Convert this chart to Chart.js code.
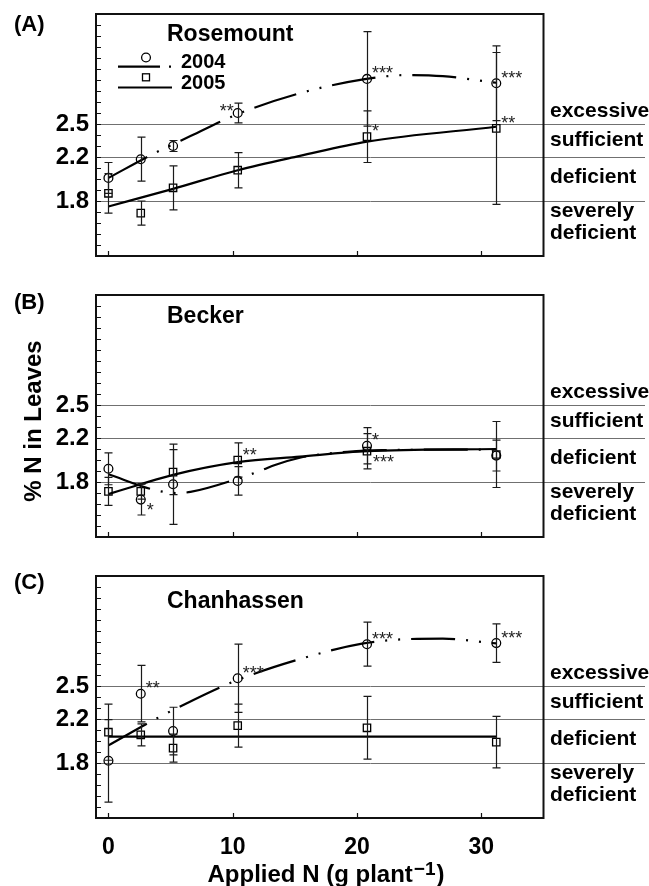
<!DOCTYPE html>
<html>
<head>
<meta charset="utf-8">
<script src="https://cdn.jsdelivr.net/npm/chart.js@4.4.1/dist/chart.umd.min.js"></script>
<style>
  html, body { margin: 0; padding: 0; background: #fff; }
  #wrap { position: relative; width: 649px; height: 886px; }
  canvas { position: absolute; left: 0; }
</style>
</head>
<body>
<div id="wrap">
  <canvas id="panelA" width="649" height="281" style="top:0"></canvas>
  <canvas id="panelB" width="649" height="281" style="top:281px"></canvas>
  <canvas id="panelC" width="649" height="324" style="top:562px"></canvas>
</div>
<script>
// ---- data ----
const nApplied = [0, 2.6, 5.2, 10.4, 20.8, 31.2];
const xTickValues = [0, 10, 20, 30];
const yTickLabels = [1.8, 2.2, 2.5];
const statusLimits = [1.8, 2.2, 2.5];
const statusNames = ['excessive', 'sufficient', 'deficient', 'severely', 'deficient'];

// (A) Rosemount
const rose2004 = [2.01, 2.18, 2.30, 2.60, 2.91, 2.87];
const rose2004Err = [0.14, 0.20, 0.05, 0.09, 0.43, 0.34];
const rose2004Sig = ['', '', '', '**', '***', '***'];
const rose2005 = [1.87, 1.69, 1.92, 2.08, 2.385, 2.46];
const rose2005Err = [0.18, 0.11, 0.20, 0.16, 0.235, 0.69];
const rose2005Sig = ['', '', '', '', '*', '**'];
const rose2004FitX = [0, 3.8, 6.6, 10.4, 15.4, 20.5, 24, 26.9, 31.2];
const rose2004FitY = [2.01, 2.24, 2.39, 2.59, 2.78, 2.905, 2.945, 2.935, 2.875];
const rose2005FitX = [0, 5.2, 10.4, 15.4, 20.8, 31.2];
const rose2005FitY = [1.75, 1.91, 2.08, 2.21, 2.34, 2.475];

// (B) Becker
const beck2004 = [1.92, 1.64, 1.78, 1.81, 2.13, 2.04];
const beck2004Err = [0.145, 0.14, 0.365, 0.13, 0.165, 0.14];
const beck2004Sig = ['', '*', '', '', '*', ''];
const beck2005 = [1.715, 1.715, 1.89, 2.0, 2.08, 2.05];
const beck2005Err = [0.127, 0.07, 0.205, 0.156, 0.16, 0.30];
const beck2005Sig = ['', '', '', '**', '***', ''];
const beck2004FitX = [0, 3.8, 5.5, 6.6, 10.4, 12.4, 13.4, 15.4, 17, 19.2, 22, 31.2];
const beck2004FitY = [1.87, 1.725, 1.70, 1.71, 1.83, 1.91, 1.955, 2.02, 2.05, 2.075, 2.09, 2.095];
const beck2005FitX = [0, 2.6, 5.2, 10.4, 15.4, 20.8, 31.2];
const beck2005FitY = [1.69, 1.78, 1.865, 1.98, 2.03, 2.08, 2.10];

// (C) Chanhassen
const chan2004 = [1.82, 2.43, 2.09, 2.57, 2.88, 2.89];
const chan2004Err = [0.375, 0.257, 0.217, 0.31, 0.20, 0.175];
const chan2004Sig = ['', '**', '', '***', '***', '***'];
const chan2005 = [2.08, 2.056, 1.935, 2.14, 2.12, 1.99];
const chan2005Err = [0.255, 0.10, 0.127, 0.196, 0.285, 0.234];
const chan2005Sig = ['', '', '', '', '', ''];
const chan2004FitX = [0, 3.8, 6.6, 10.4, 15.4, 20.4, 24, 26.9, 31.2];
const chan2004FitY = [1.96, 2.20, 2.36, 2.555, 2.745, 2.885, 2.926, 2.93, 2.887];
const chan2005FitX = [0, 31.2];
const chan2005FitY = [2.04, 2.04];

// ---- drawing ----
const FONT = "'Liberation Sans', Arial, Helvetica, sans-serif";
Chart.defaults.font.family = FONT;
Chart.defaults.color = '#000';
const DASH_2004 = [44, 11, 2, 11, 2, 11];
const PLOT_TOP = 14, PLOT_H = 242;

const pts = (xs, ys) => xs.map((v, i) => ({ x: v, y: ys[i] }));

function drawStars(ctx, text, px, py, pos) {
  ctx.font = '18px ' + FONT;
  ctx.textBaseline = 'alphabetic';
  if (pos === 'nw') { ctx.textAlign = 'right'; ctx.fillText(text, px - 4, py - 7 + 10.5); }
  else if (pos === 'se') { ctx.textAlign = 'left'; ctx.fillText(text, px + 6, py + 6 + 10.5); }
  else { ctx.textAlign = 'left'; ctx.fillText(text, px + 5, py - 10 + 10.5); }
}

const decor = {
  id: 'decor',
  beforeDatasetsDraw(chart) {
    const { ctx, chartArea: a, scales: { y } } = chart;
    ctx.save();
    ctx.strokeStyle = '#707070';
    ctx.lineWidth = 1;
    statusLimits.forEach(v => {
      const py = Math.round(y.getPixelForValue(v)) + 0.5;
      ctx.beginPath(); ctx.moveTo(a.left, py); ctx.lineTo(645, py); ctx.stroke();
    });
    const anchors = [[2.5, -13], [2.5, 16.5], [2.2, 20], [1.8, 10], [1.8, 32]];
    ctx.fillStyle = '#000';
    ctx.font = 'bold 21px ' + FONT;
    ctx.textAlign = 'left';
    ctx.textBaseline = 'middle';
    statusNames.forEach((t, i) => ctx.fillText(t, 550, y.getPixelForValue(anchors[i][0]) + anchors[i][1]));
    ctx.restore();
  },
  afterDatasetsDraw(chart, args, o) {
    const { ctx, chartArea: a, scales: { x, y } } = chart;
    ctx.save();
    // error bars + significance
    chart.data.datasets.forEach(ds => {
      if (!ds.errors) return;
      ctx.strokeStyle = '#1a1a1a';
      ctx.lineWidth = 1.2;
      ds.data.forEach((p, i) => {
        const px = Math.round(x.getPixelForValue(p.x)) + 0.5;
        const top = y.getPixelForValue(p.y + ds.errors[i]);
        const bot = y.getPixelForValue(p.y - ds.errors[i]);
        ctx.beginPath();
        ctx.moveTo(px, top); ctx.lineTo(px, bot);
        ctx.moveTo(px - 4, top); ctx.lineTo(px + 4, top);
        ctx.moveTo(px - 4, bot); ctx.lineTo(px + 4, bot);
        ctx.stroke();
        if (ds.stars[i]) {
          ctx.fillStyle = '#222';
          drawStars(ctx, ds.stars[i], x.getPixelForValue(p.x), y.getPixelForValue(p.y), (ds.starPos || {})[i]);
        }
      });
    });
    // frame and inner ticks
    ctx.strokeStyle = '#111';
    ctx.lineWidth = 2;
    ctx.strokeRect(a.left, a.top, a.right - a.left, a.bottom - a.top);
    ctx.lineWidth = 1.2;
    ctx.beginPath();
    y.ticks.forEach(t => {
      const py = Math.round(y.getPixelForValue(t.value)) + 0.5;
      ctx.moveTo(a.left, py); ctx.lineTo(a.left + 5, py);
    });
    x.ticks.forEach(t => {
      const px = Math.round(x.getPixelForValue(t.value)) + 0.5;
      ctx.moveTo(px, a.bottom); ctx.lineTo(px, a.bottom - 5);
    });
    ctx.stroke();
    // panel tag and site name
    ctx.fillStyle = '#000';
    ctx.textAlign = 'left';
    ctx.textBaseline = 'middle';
    ctx.font = 'bold 22px ' + FONT;
    ctx.fillText(o.tag, 14, o.tagY);
    ctx.font = 'bold 23px ' + FONT;
    ctx.fillText(o.site, 167, o.siteY);
    if (o.legend) {
      const d04 = chart.data.datasets[0], d05 = chart.data.datasets[1];
      ctx.strokeStyle = '#000';
      ctx.lineWidth = 1.3;
      ctx.beginPath(); ctx.arc(146, 57.5, 4.4, 0, Math.PI * 2); ctx.stroke();
      ctx.strokeRect(142.5, 73.8, 7, 7);
      ctx.lineWidth = 2.2;
      ctx.beginPath(); ctx.moveTo(118, 66.7); ctx.lineTo(160, 66.7); ctx.moveTo(169, 66.7); ctx.lineTo(171, 66.7); ctx.stroke();
      ctx.beginPath(); ctx.moveTo(118, 87.5); ctx.lineTo(172, 87.5); ctx.stroke();
      ctx.font = 'bold 20px ' + FONT;
      ctx.fillText(d04.label, 181, 62.5);
      ctx.fillText(d05.label, 181, 83.5);
    }
    if (o.yTitle) {
      ctx.save();
      ctx.translate(34, 140);
      ctx.rotate(-Math.PI / 2);
      ctx.textAlign = 'center';
      ctx.font = 'bold 24px ' + FONT;
      ctx.fillText(o.yTitle, 0, 0);
      ctx.restore();
    }
    if (o.xTitle) {
      const main = 'Applied N (g plant', sup = '\u22121', close = ')';
      ctx.textBaseline = 'alphabetic';
      ctx.font = 'bold 24px ' + FONT;
      const w1 = ctx.measureText(main).width, w3 = ctx.measureText(close).width;
      ctx.font = 'bold 19px ' + FONT;
      const w2 = ctx.measureText(sup).width;
      const sx = 326 - (w1 + w2 + w3 + 2) / 2;
      const base = 320;
      ctx.font = 'bold 24px ' + FONT;
      ctx.fillText(main, sx, base);
      ctx.font = 'bold 19px ' + FONT;
      ctx.fillText(sup, sx + w1 + 1, base - 7);
      ctx.font = 'bold 24px ' + FONT;
      ctx.fillText(close, sx + w1 + w2 + 2, base);
    }
    ctx.restore();
  }
};

function buildPanel(id, p, decorOpts) {
  const canvas = document.getElementById(id);
  const axisH = canvas.height - PLOT_TOP - PLOT_H;
  return new Chart(canvas, {
    type: 'line',
    data: {
      datasets: [
        { label: '2004', data: pts(nApplied, p.y04), errors: p.e04, stars: p.s04, starPos: p.pos04,
          showLine: false, pointStyle: 'circle', pointRadius: 4.4, pointBorderWidth: 1.3,
          pointBorderColor: '#000', pointBackgroundColor: 'rgba(0,0,0,0)' },
        { label: '2005', data: pts(nApplied, p.y05), errors: p.e05, stars: p.s05, starPos: p.pos05,
          showLine: false, pointStyle: 'rect', pointRadius: 5.2, pointBorderWidth: 1.3,
          pointBorderColor: '#000', pointBackgroundColor: 'rgba(0,0,0,0)' },
        { label: '2004 fit', data: pts(p.fx04, p.fy04), borderColor: '#000', borderWidth: 2.2,
          borderDash: DASH_2004, pointRadius: 0, cubicInterpolationMode: 'monotone', fill: false },
        { label: '2005 fit', data: pts(p.fx05, p.fy05), borderColor: '#000', borderWidth: 2.2,
          pointRadius: 0, cubicInterpolationMode: 'monotone', fill: false }
      ]
    },
    options: {
      responsive: false, animation: false, devicePixelRatio: 1,
      layout: { padding: { top: PLOT_TOP, right: 105.5, left: 0, bottom: 0 } },
      plugins: { legend: { display: false }, tooltip: { enabled: false }, decor: decorOpts },
      scales: {
        x: {
          type: 'linear', min: -1, max: 35,
          grid: { display: false, drawTicks: false }, border: { display: false },
          afterBuildTicks: s => { s.ticks = xTickValues.map(v => ({ value: v })); },
          ticks: { display: !!decorOpts.xTitle, autoSkip: false, maxRotation: 0, padding: 16,
                   font: { size: 23, weight: 'bold' }, color: '#000' },
          afterFit: s => { s.height = axisH; s.paddingLeft = 0; s.paddingRight = 0; }
        },
        y: {
          type: 'linear', min: 1.3, max: 3.5,
          grid: { display: false, drawTicks: false }, border: { display: false },
          ticks: { stepSize: 0.1, autoSkip: false, padding: 7, color: '#000',
                   font: { size: 24, weight: 'bold' },
                   callback: v => yTickLabels.includes(Math.round(v * 10) / 10) ? v.toFixed(1) : '' },
          afterFit: s => { s.width = 96; s.paddingTop = 0; s.paddingBottom = 0; }
        }
      }
    },
    plugins: [decor]
  });
}

buildPanel('panelA', {
  y04: rose2004, e04: rose2004Err, s04: rose2004Sig, pos04: { 3: 'nw' },
  y05: rose2005, e05: rose2005Err, s05: rose2005Sig,
  fx04: rose2004FitX, fy04: rose2004FitY, fx05: rose2005FitX, fy05: rose2005FitY
}, { tag: '(A)', tagY: 25, site: 'Rosemount', siteY: 35, legend: true });

buildPanel('panelB', {
  y04: beck2004, e04: beck2004Err, s04: beck2004Sig, pos04: { 1: 'se' },
  y05: beck2005, e05: beck2005Err, s05: beck2005Sig, pos05: { 4: 'se' },
  fx04: beck2004FitX, fy04: beck2004FitY, fx05: beck2005FitX, fy05: beck2005FitY
}, { tag: '(B)', tagY: 22, site: 'Becker', siteY: 36, yTitle: '% N in Leaves' });

buildPanel('panelC', {
  y04: chan2004, e04: chan2004Err, s04: chan2004Sig,
  y05: chan2005, e05: chan2005Err, s05: chan2005Sig,
  fx04: chan2004FitX, fy04: chan2004FitY, fx05: chan2005FitX, fy05: chan2005FitY
}, { tag: '(C)', tagY: 21, site: 'Chanhassen', siteY: 40, xTitle: true });
</script>
</body>
</html>
